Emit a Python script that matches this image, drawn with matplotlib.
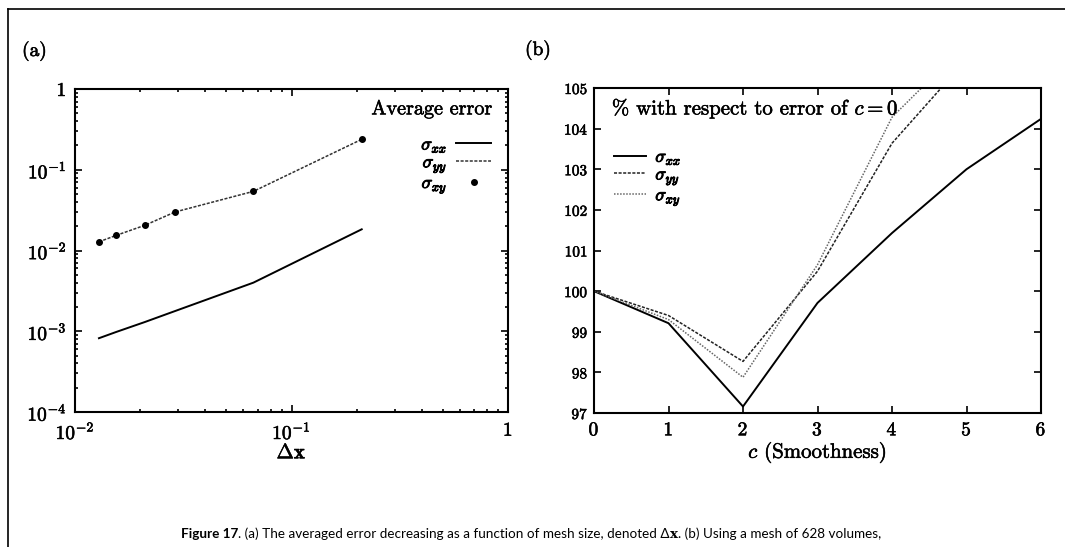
import matplotlib
matplotlib.use("Agg")
import matplotlib.pyplot as plt
from matplotlib.lines import Line2D
import matplotlib.patheffects as pe
from matplotlib.ticker import FixedLocator, FixedFormatter, LogLocator, NullFormatter

plt.rcParams['mathtext.fontset'] = 'cm'
plt.rcParams['font.family'] = ['cmr10', 'DejaVu Serif']
plt.rcParams['axes.formatter.use_mathtext'] = True

# ---- Panel (a) data ----
dx = [0.0129, 0.0155, 0.0210, 0.0290, 0.0667, 0.211]
err_xx = [0.00082, 0.00098, 0.0013, 0.00178, 0.0040, 0.0183]
err_yy = [0.0128, 0.0154, 0.0205, 0.0300, 0.0540, 0.238]
err_xy = [0.0128, 0.0155, 0.0206, 0.0300, 0.0546, 0.241]
a_xticks = [0.01, 0.1, 1]
a_xticklabels = [r'$10^{-2}$', r'$10^{-1}$', r'$1$']
a_yticks = [1e-4, 1e-3, 1e-2, 1e-1, 1]
a_yticklabels = [r'$10^{-4}$', r'$10^{-3}$', r'$10^{-2}$', r'$10^{-1}$', r'$1$']

# ---- Panel (b) data ----
c = [0, 1, 2, 3, 4, 5, 6]
pct_xx = [100.0, 99.21, 97.16, 99.71, 101.43, 103.0, 104.24]
pct_yy = [100.0, 99.40, 98.27, 100.49, 103.64, 105.7, 107.8]
pct_xy = [100.0, 99.30, 97.88, 100.65, 104.28, 106.1, 108.0]
b_xticks = [0, 1, 2, 3, 4, 5, 6]
b_yticks = [97, 98, 99, 100, 101, 102, 103, 104, 105]

W, H = 1065, 547
fig = plt.figure(figsize=(W/100, H/100), dpi=100)
bold = [pe.withStroke(linewidth=0.7, foreground='black')]
bold_light = [pe.withStroke(linewidth=0.4, foreground='black')]

# Frame lines (top and left)
fig.add_artist(Line2D([8/W, 8/W], [0, 1-9/H], color='black', lw=1.2, transform=fig.transFigure))
fig.add_artist(Line2D([8/W, 1], [1-9/H, 1-9/H], color='black', lw=1.2, transform=fig.transFigure))

# ---------- Panel (a) ----------
axa = fig.add_axes([75/W, 1-412/H, 433/W, 323/H])
axa.loglog(dx, err_xx, color='black', lw=1.4, label=r'$\sigma_{xx}$')
axa.loglog(dx, err_yy, color='#333333', lw=1.1, ls=(0, (2, 1)), label=r'$\sigma_{yy}$')
axa.loglog(dx, err_xy, ls='none', marker='o', ms=4, color='black', label=r'$\sigma_{xy}$')
axa.set_xlim(0.01, 1)
axa.set_ylim(1e-4, 1)
axa.xaxis.set_major_locator(FixedLocator(a_xticks))
axa.xaxis.set_major_formatter(FixedFormatter(a_xticklabels))
axa.yaxis.set_major_locator(FixedLocator(a_yticks))
axa.yaxis.set_major_formatter(FixedFormatter(a_yticklabels))
axa.xaxis.set_minor_locator(LogLocator(base=10, subs=range(2, 10)))
axa.yaxis.set_minor_locator(LogLocator(base=10, subs=range(2, 10)))
axa.xaxis.set_minor_formatter(NullFormatter())
axa.yaxis.set_minor_formatter(NullFormatter())
axa.tick_params(which='both', direction='in', top=True, right=True, labelsize=14, width=1.2)
axa.tick_params(which='major', length=5)
axa.tick_params(axis='x', which='major', pad=7)
axa.tick_params(axis='y', which='major', pad=6)
axa.tick_params(which='minor', length=2.5)
for lab in axa.get_xticklabels() + axa.get_yticklabels():
    lab.set_path_effects(bold_light)
for s in axa.spines.values():
    s.set_linewidth(1.5)
xl = axa.set_xlabel(r'$\Delta \mathbf{x}$', fontsize=15, labelpad=1)
xl.set_path_effects(bold_light)
axa.text(0.963, 0.937, 'Average error', transform=axa.transAxes, ha='right', va='center',
         fontsize=14.5, path_effects=bold_light)
leg = axa.legend(loc='upper right', bbox_to_anchor=(0.985, 0.885), frameon=False, markerfirst=False,
                 fontsize=13, handlelength=1.9, handletextpad=0.5, labelspacing=0.0,
                 borderpad=0.1)
for t in leg.get_texts():
    t.set_path_effects(bold)
fig.text(22/W, 1-51/H, '(a)', fontsize=14, va='center', ha='left', path_effects=bold_light)

# ---------- Panel (b) ----------
axb = fig.add_axes([594/W, 1-413/H, 447/W, 325/H])
axb.plot(c, pct_xx, color='black', lw=1.4, label=r'$\sigma_{xx}$')
axb.plot(c, pct_yy, color='#222222', lw=1.1, ls=(0, (2, 1)), label=r'$\sigma_{yy}$')
axb.plot(c, pct_xy, color='#666666', lw=1.1, ls=(0, (1, 1)), label=r'$\sigma_{xy}$')
axb.set_xlim(0, 6)
axb.set_ylim(97, 105)
axb.set_xticks(b_xticks)
axb.set_yticks(b_yticks)
axb.set_xticklabels([r'$%d$' % v for v in b_xticks])
axb.set_yticklabels([r'$%d$' % v for v in b_yticks])
axb.tick_params(axis='x', labelsize=14, pad=6)
axb.tick_params(axis='y', labelsize=11, pad=4)
axb.tick_params(which='both', direction='in', top=True, right=True, length=5, width=1.2)
for lab in axb.get_xticklabels() + axb.get_yticklabels():
    lab.set_path_effects(bold_light)
for s in axb.spines.values():
    s.set_linewidth(1.5)
xl = axb.set_xlabel(r'$c$ (Smoothness)', fontsize=15, labelpad=1)
xl.set_path_effects(bold_light)
axb.text(0.04, 0.937, r'% with respect to error of $c = 0$', transform=axb.transAxes,
         ha='left', va='center', fontsize=15, path_effects=bold_light)
legb = axb.legend(loc='upper left', bbox_to_anchor=(0.02, 0.845), frameon=False, fontsize=13,
                  handlelength=1.8, handletextpad=0.5, labelspacing=0.0, borderpad=0.1)
for t in legb.get_texts():
    t.set_path_effects(bold)
fig.text(525/W, 1-50/H, '(b)', fontsize=14, va='center', ha='left', path_effects=bold_light)

# ---------- Caption ----------
cap_y = 1-534/H
cap_fam = ['Lato', 'DejaVu Sans']
cap_fs = 9.7
parts = [('Figure 17', 'bold', cap_fam),
         ('. (a) The averaged error decreasing as a function of mesh size, denoted Δ', 'normal', cap_fam),
         ('x', 'bold', ['DejaVu Serif']),
         ('. (b) Using a mesh of 628 volumes,', 'normal', cap_fam)]
texts = []
x0 = 0
for txt, wt, fam in parts:
    t = fig.text(x0/W, cap_y, txt, fontsize=cap_fs, fontweight=wt, family=fam,
                 va='center', ha='left')
    fig.canvas.draw()
    x0 = t.get_window_extent().x1
    texts.append(t)
shift = 531 - x0/2
for t in texts:
    x, y = t.get_position()
    t.set_position((x + shift/W, y))

fig.savefig('out.png', dpi=100)
